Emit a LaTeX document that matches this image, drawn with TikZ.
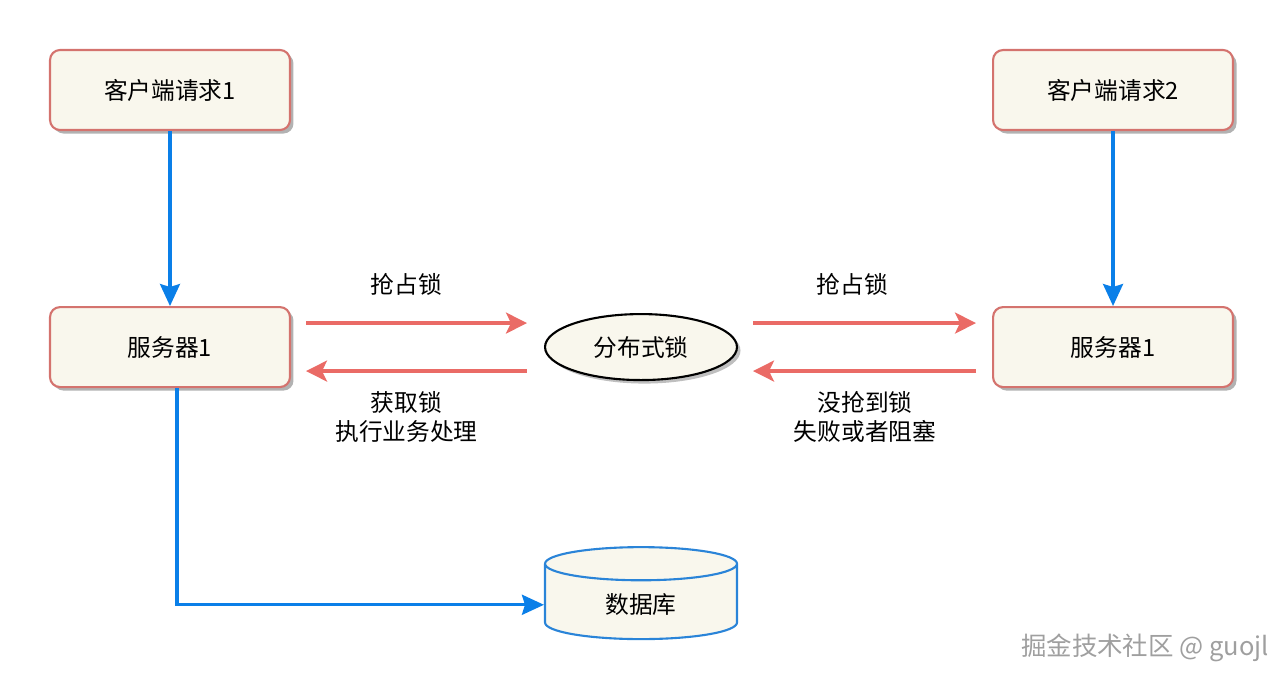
\documentclass[tikz,border=0pt]{standalone}
\usepackage{fontspec}
\setmainfont{Noto Sans CJK SC}
\usetikzlibrary{positioning,arrows.meta,shapes.geometric,shadows}

\definecolor{cream}{HTML}{F9F7ED}
\definecolor{boxred}{HTML}{D4736E}
\definecolor{lockred}{HTML}{EA6B66}
\definecolor{flowblue}{HTML}{0A7FE8}
\definecolor{dbblue}{HTML}{2A84D8}

\begin{document}
\begin{tikzpicture}[x=0.02cm, y=-0.02cm,
  every node/.style={font=\fontsize{13.5pt}{17pt}\selectfont},
  req/.style={draw=boxred, fill=cream, line width=1.2pt, rounded corners=2mm,
    minimum width=4.8cm, minimum height=1.6cm,
    drop shadow={shadow xshift=2pt, shadow yshift=-2pt, opacity=0.3, fill=black}},
  lk/.style={ellipse, draw=black, fill=cream, line width=1.2pt,
    minimum width=3.84cm, minimum height=1.32cm,
    drop shadow={shadow xshift=2pt, shadow yshift=-2pt, opacity=0.25, fill=black}},
  db/.style={cylinder, shape border rotate=90, aspect=0.4, draw=dbblue, fill=cream,
    line width=1.2pt, minimum width=3.84cm, minimum height=1.84cm},
  flow/.style={-{Stealth[length=4.4mm, width=4mm, inset=0.6mm]}, draw=flowblue, line width=1.8pt},
  grab/.style={-{Stealth[length=4.2mm, width=4.2mm, inset=1mm]}, draw=lockred, line width=1.8pt},
  lab/.style={align=center}]

\useasboundingbox (0,0) rectangle (1288,684);

\node[req] (cli1) at (170,90) {客户端请求1};
\node[req, below=3.5cm of cli1] (srv1) {服务器1};
\node[lk, right=5.06cm of srv1] (lock) {分布式锁};
\node[req, right=5.08cm of lock] (srv2) {服务器1};
\node[req, above=3.5cm of srv2] (cli2) {客户端请求2};
\node[db, below=3.3cm of lock] (store) {数据库};

\draw[flow] (cli1) -- (srv1);
\draw[flow] (cli2) -- (srv2);
\draw[flow] ([xshift=0.14cm]srv1.south) |- (store.west);

% left side: server 1 gets the lock
\draw[grab, shorten <=0.3cm, shorten >=0.34cm] ([yshift=0.48cm]srv1.east) --
  node[lab, above=4mm, xshift=-0.22cm] {抢占锁} ([yshift=0.48cm]lock.west);
\draw[grab, shorten <=0.34cm, shorten >=0.3cm] ([yshift=-0.48cm]lock.west) --
  node[lab, below=2.5mm, xshift=-0.22cm] {获取锁\\执行业务处理} ([yshift=-0.48cm]srv1.east);

% right side: server 2 fails
\draw[grab, shorten <=0.3cm, shorten >=0.32cm] ([yshift=0.48cm]lock.east) --
  node[lab, above=4mm, xshift=-0.25cm] {抢占锁} ([yshift=0.48cm]srv2.west);
\draw[grab, shorten <=0.32cm, shorten >=0.3cm] ([yshift=-0.48cm]srv2.west) --
  node[lab, below=2.5mm] {没抢到锁\\失败或者阻塞} ([yshift=-0.48cm]lock.east);

\node[text=gray!75, font=\fontsize{14.5pt}{17pt}\selectfont] (mark) at (1145,648) {掘金技术社区 @ guojl};
\end{tikzpicture}
\end{document}
